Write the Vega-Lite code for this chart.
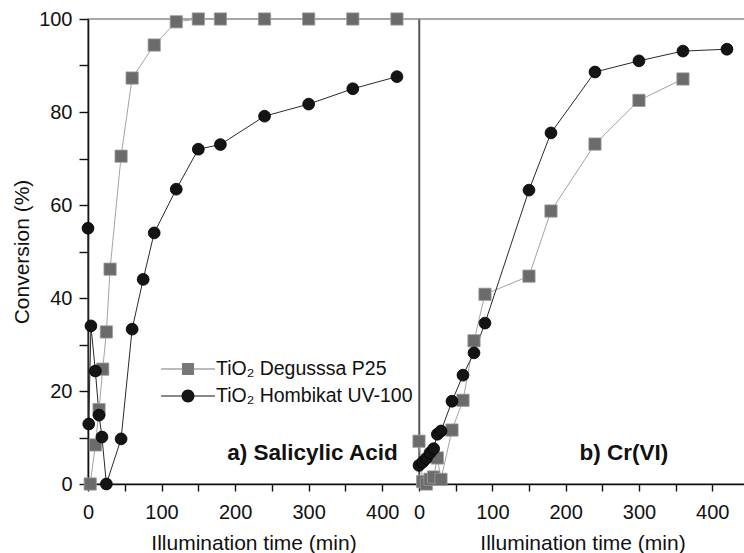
{
  "$schema": "https://vega.github.io/schema/vega-lite/v6.json",
  "background": "white",
  "padding": {"left": 10, "top": 8, "right": 0, "bottom": 0},
  "bounds": "flush",
  "spacing": 0,
  "config": {
    "font": "Liberation Sans",
    "view": {"stroke": "#8c8c8c", "strokeWidth": 1.5},
    "axis": {"labelFontSize": 20, "titleFontSize": 21, "titleFontWeight": "normal", "labelColor": "#111", "titleColor": "#111", "domainColor": "#111", "tickColor": "#111", "domainWidth": 1.6, "tickWidth": 1.4, "grid": false, "labelOverlap": false, "labelFlush": false}
  },
  "datasets": {
    "sal": [
      {"s": "TiO₂ Degusssa P25", "t": 3, "c": 0},
      {"s": "TiO₂ Degusssa P25", "t": 10, "c": 8.4},
      {"s": "TiO₂ Degusssa P25", "t": 15, "c": 16},
      {"s": "TiO₂ Degusssa P25", "t": 20, "c": 24.7},
      {"s": "TiO₂ Degusssa P25", "t": 25, "c": 32.7},
      {"s": "TiO₂ Degusssa P25", "t": 30, "c": 46.2},
      {"s": "TiO₂ Degusssa P25", "t": 45, "c": 70.5},
      {"s": "TiO₂ Degusssa P25", "t": 60, "c": 87.3},
      {"s": "TiO₂ Degusssa P25", "t": 90, "c": 94.4},
      {"s": "TiO₂ Degusssa P25", "t": 120, "c": 99.4},
      {"s": "TiO₂ Degusssa P25", "t": 150, "c": 100},
      {"s": "TiO₂ Degusssa P25", "t": 180, "c": 100},
      {"s": "TiO₂ Degusssa P25", "t": 240, "c": 100},
      {"s": "TiO₂ Degusssa P25", "t": 300, "c": 100},
      {"s": "TiO₂ Degusssa P25", "t": 360, "c": 100},
      {"s": "TiO₂ Degusssa P25", "t": 420, "c": 100},
      {"s": "TiO₂ Hombikat UV-100", "t": 0, "c": 55},
      {"s": "TiO₂ Hombikat UV-100", "t": 1, "c": 12.9},
      {"s": "TiO₂ Hombikat UV-100", "t": 4, "c": 34},
      {"s": "TiO₂ Hombikat UV-100", "t": 10, "c": 24.3},
      {"s": "TiO₂ Hombikat UV-100", "t": 15, "c": 14.8},
      {"s": "TiO₂ Hombikat UV-100", "t": 19, "c": 10.1},
      {"s": "TiO₂ Hombikat UV-100", "t": 25, "c": 0},
      {"s": "TiO₂ Hombikat UV-100", "t": 45, "c": 9.7},
      {"s": "TiO₂ Hombikat UV-100", "t": 60, "c": 33.3},
      {"s": "TiO₂ Hombikat UV-100", "t": 75, "c": 44},
      {"s": "TiO₂ Hombikat UV-100", "t": 90, "c": 54},
      {"s": "TiO₂ Hombikat UV-100", "t": 120, "c": 63.4},
      {"s": "TiO₂ Hombikat UV-100", "t": 150, "c": 72},
      {"s": "TiO₂ Hombikat UV-100", "t": 180, "c": 73},
      {"s": "TiO₂ Hombikat UV-100", "t": 240, "c": 79.1},
      {"s": "TiO₂ Hombikat UV-100", "t": 300, "c": 81.7},
      {"s": "TiO₂ Hombikat UV-100", "t": 360, "c": 85},
      {"s": "TiO₂ Hombikat UV-100", "t": 420, "c": 87.6}
    ],
    "cr": [
      {"s": "TiO₂ Degusssa P25", "t": 0, "c": 9.2},
      {"s": "TiO₂ Degusssa P25", "t": 5, "c": 0.5},
      {"s": "TiO₂ Degusssa P25", "t": 10, "c": 0},
      {"s": "TiO₂ Degusssa P25", "t": 15, "c": 1},
      {"s": "TiO₂ Degusssa P25", "t": 20, "c": 1.5},
      {"s": "TiO₂ Degusssa P25", "t": 25, "c": 5.6},
      {"s": "TiO₂ Degusssa P25", "t": 30, "c": 1},
      {"s": "TiO₂ Degusssa P25", "t": 45, "c": 11.6},
      {"s": "TiO₂ Degusssa P25", "t": 60, "c": 18},
      {"s": "TiO₂ Degusssa P25", "t": 75, "c": 30.8},
      {"s": "TiO₂ Degusssa P25", "t": 90, "c": 40.8},
      {"s": "TiO₂ Degusssa P25", "t": 150, "c": 44.7},
      {"s": "TiO₂ Degusssa P25", "t": 180, "c": 58.7},
      {"s": "TiO₂ Degusssa P25", "t": 240, "c": 73.1},
      {"s": "TiO₂ Degusssa P25", "t": 300, "c": 82.5},
      {"s": "TiO₂ Degusssa P25", "t": 360, "c": 87.1},
      {"s": "TiO₂ Hombikat UV-100", "t": 0, "c": 4},
      {"s": "TiO₂ Hombikat UV-100", "t": 5, "c": 4.7},
      {"s": "TiO₂ Hombikat UV-100", "t": 10, "c": 5.5},
      {"s": "TiO₂ Hombikat UV-100", "t": 15, "c": 6.7},
      {"s": "TiO₂ Hombikat UV-100", "t": 20, "c": 7.6},
      {"s": "TiO₂ Hombikat UV-100", "t": 25, "c": 10.7},
      {"s": "TiO₂ Hombikat UV-100", "t": 30, "c": 11.4},
      {"s": "TiO₂ Hombikat UV-100", "t": 45, "c": 17.8},
      {"s": "TiO₂ Hombikat UV-100", "t": 60, "c": 23.4},
      {"s": "TiO₂ Hombikat UV-100", "t": 75, "c": 28.2},
      {"s": "TiO₂ Hombikat UV-100", "t": 90, "c": 34.6},
      {"s": "TiO₂ Hombikat UV-100", "t": 150, "c": 63.2},
      {"s": "TiO₂ Hombikat UV-100", "t": 180, "c": 75.5},
      {"s": "TiO₂ Hombikat UV-100", "t": 240, "c": 88.6},
      {"s": "TiO₂ Hombikat UV-100", "t": 300, "c": 91},
      {"s": "TiO₂ Hombikat UV-100", "t": 360, "c": 93.1},
      {"s": "TiO₂ Hombikat UV-100", "t": 420, "c": 93.5}
    ]
  },
  "hconcat": [
    {
      "width": 331,
      "height": 465,
      "layer": [
        {"data": {"name": "sal"}, "transform": [{"filter": "datum.s === 'TiO₂ Degusssa P25'"}], "mark": {"type": "line", "color": "#a3a3a3", "strokeWidth": 1},
         "encoding": {
          "x": {"field": "t", "type": "quantitative", "scale": {"domain": [0, 450], "nice": false, "zero": false},
                "axis": {"values": [0, 50, 100, 150, 200, 250, 300, 350, 400], "labelExpr": "datum.value % 100 === 0 ? datum.label : ''", "tickSize": 7, "labelPadding": 11, "title": "Illumination time (min)", "titlePadding": 10}},
          "y": {"field": "c", "type": "quantitative", "scale": {"domain": [0, 100], "nice": false},
                "axis": {"values": [0, 10, 20, 30, 40, 50, 60, 70, 80, 90, 100], "labelExpr": "datum.value % 20 === 0 ? datum.label : ''", "tickSize": 9, "labelPadding": 7, "title": "Conversion (%)", "titlePadding": 6}}
         }},
        {"data": {"name": "sal"}, "transform": [{"filter": "datum.s === 'TiO₂ Hombikat UV-100'"}], "mark": {"type": "line", "color": "#2a2a2a", "strokeWidth": 1},
         "encoding": {"x": {"field": "t", "type": "quantitative"}, "y": {"field": "c", "type": "quantitative"}}},
        {"data": {"name": "sal"}, "transform": [{"filter": "datum.s === 'TiO₂ Degusssa P25'"}], "mark": {"type": "point", "shape": "square", "size": 150, "fill": "#6b6b6b", "stroke": "#9c9c9c", "strokeWidth": 0.8, "opacity": 1},
         "encoding": {"x": {"field": "t", "type": "quantitative"}, "y": {"field": "c", "type": "quantitative"}}},
        {"data": {"name": "sal"}, "transform": [{"filter": "datum.s === 'TiO₂ Hombikat UV-100'"}], "mark": {"type": "point", "shape": "circle", "size": 140, "fill": "#141414", "stroke": "#000", "strokeWidth": 0.8, "opacity": 1},
         "encoding": {"x": {"field": "t", "type": "quantitative"}, "y": {"field": "c", "type": "quantitative"}}},
        {"data": {"name": "sal"}, "transform": [{"filter": "false"}], "mark": {"type": "point", "filled": true, "opacity": 1},
         "encoding": {
           "x": {"field": "t", "type": "quantitative"}, "y": {"field": "c", "type": "quantitative"},
           "shape": {"field": "s", "type": "nominal",
                     "scale": {"domain": ["TiO₂ Degusssa P25", "TiO₂ Hombikat UV-100"], "range": ["M-2.7,-0.05H2.7V0.05H-2.7Z M-0.6,-0.6H0.6V0.6H-0.6Z", "M-2.7,-0.05H2.7V0.05H-2.7Z M-0.65,0A0.65,0.65 0 1,1 0.65,0A0.65,0.65 0 1,1 -0.65,0Z"]},
                     "legend": {"title": null, "orient": "none", "legendX": 90, "legendY": 340, "labelFontSize": 19.5, "labelLimit": 400, "labelColor": "#111", "symbolSize": 400, "labelOffset": 18, "rowPadding": 7, "padding": 0, "symbolStrokeWidth": 0, "symbolOpacity": 1}},
           "color": {"field": "s", "type": "nominal",
                     "scale": {"domain": ["TiO₂ Degusssa P25", "TiO₂ Hombikat UV-100"], "range": ["#777777", "#141414"]},
                     "legend": {"title": null, "orient": "none", "legendX": 90, "legendY": 340, "labelFontSize": 19.5, "labelLimit": 400, "labelColor": "#111", "symbolSize": 400, "labelOffset": 18, "rowPadding": 7, "padding": 0, "symbolStrokeWidth": 0, "symbolOpacity": 1}}
         }},
        {"data": {"values": [{"lbl": "a)  Salicylic Acid"}]}, "mark": {"type": "text", "align": "right", "baseline": "alphabetic", "fontWeight": "bold", "fontSize": 22.5, "fill": "#111"},
         "encoding": {"x": {"datum": 421}, "y": {"datum": 5.2}, "text": {"field": "lbl", "type": "nominal"}}}
      ]
    },
    {
      "width": 327,
      "height": 465,
      "layer": [
        {"data": {"name": "cr"}, "transform": [{"filter": "datum.s === 'TiO₂ Degusssa P25'"}], "mark": {"type": "line", "color": "#a3a3a3", "strokeWidth": 1},
         "encoding": {
          "x": {"field": "t", "type": "quantitative", "scale": {"domain": [0, 446], "nice": false, "zero": false},
                "axis": {"values": [0, 50, 100, 150, 200, 250, 300, 350, 400], "labelExpr": "datum.value % 100 === 0 ? datum.label : ''", "tickSize": 7, "labelPadding": 11, "title": "Illumination time (min)", "titlePadding": 10}},
          "y": {"field": "c", "type": "quantitative", "scale": {"domain": [0, 100], "nice": false},
                "axis": {"labels": false, "ticks": false, "title": null, "domainColor": "#555", "domainWidth": 1.5}}
         }},
        {"data": {"name": "cr"}, "transform": [{"filter": "datum.s === 'TiO₂ Hombikat UV-100'"}], "mark": {"type": "line", "color": "#2a2a2a", "strokeWidth": 1},
         "encoding": {"x": {"field": "t", "type": "quantitative"}, "y": {"field": "c", "type": "quantitative"}}},
        {"data": {"name": "cr"}, "transform": [{"filter": "datum.s === 'TiO₂ Degusssa P25'"}], "mark": {"type": "point", "shape": "square", "size": 150, "fill": "#6b6b6b", "stroke": "#9c9c9c", "strokeWidth": 0.8, "opacity": 1},
         "encoding": {"x": {"field": "t", "type": "quantitative"}, "y": {"field": "c", "type": "quantitative"}}},
        {"data": {"name": "cr"}, "transform": [{"filter": "datum.s === 'TiO₂ Hombikat UV-100'"}], "mark": {"type": "point", "shape": "circle", "size": 140, "fill": "#141414", "stroke": "#000", "strokeWidth": 0.8, "opacity": 1},
         "encoding": {"x": {"field": "t", "type": "quantitative"}, "y": {"field": "c", "type": "quantitative"}}},
        {"data": {"values": [{"lbl": "b)  Cr(VI)"}]}, "mark": {"type": "text", "align": "right", "baseline": "alphabetic", "fontWeight": "bold", "fontSize": 22.5, "fill": "#111"},
         "encoding": {"x": {"datum": 340}, "y": {"datum": 5.2}, "text": {"field": "lbl", "type": "nominal"}}}
      ]
    }
  ]
}
